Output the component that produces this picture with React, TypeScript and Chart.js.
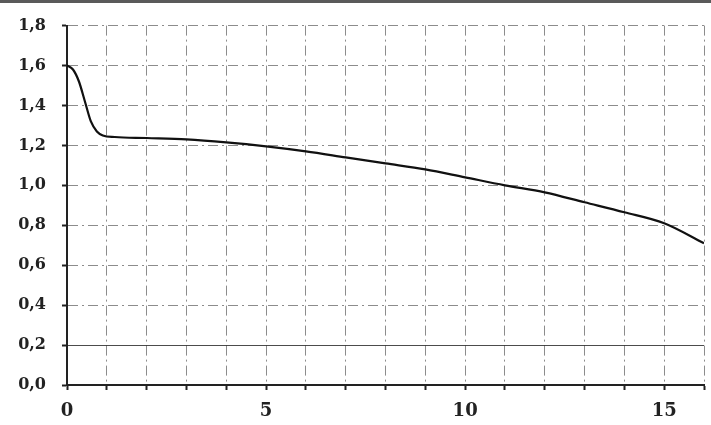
import React, { useEffect, useRef } from "react";
import { Chart, registerables } from "chart.js";

Chart.register(...registerables);

const xValues = [0, 0.15, 0.3, 0.45, 0.6, 0.75, 0.9, 1.2, 2, 3, 4, 5, 6, 7, 8, 9, 10, 11, 12, 13, 14, 15, 16];
const yValues = [1.6, 1.58, 1.52, 1.42, 1.32, 1.27, 1.25, 1.242, 1.237, 1.23, 1.215, 1.195, 1.17, 1.14, 1.11, 1.08, 1.04, 1.0, 0.965, 0.915, 0.865, 0.81, 0.71];
const xTickLabels = [0, 5, 10, 15];
const yMin = 0;
const yMax = 1.8;

const topLine = {
  id: "topLine",
  afterDraw(chart: any) {
    const c = chart.ctx;
    c.save();
    c.fillStyle = "#5a5a5a";
    c.fillRect(0, 0, chart.width, 3);
    c.restore();
  },
};

export default function App() {
  const ref = useRef<HTMLCanvasElement | null>(null);
  useEffect(() => {
    if (!ref.current) return;
    const font = { family: "'DejaVu Serif', serif", weight: "bold" as const };
    const chart = new Chart(ref.current, {
      type: "line",
      data: {
        datasets: [
          {
            data: xValues.map((x, i) => ({ x, y: yValues[i] })),
            borderColor: "#111",
            borderWidth: 2.2,
            pointRadius: 0,
            cubicInterpolationMode: "monotone",
            fill: false,
          },
        ],
      },
      options: {
        animation: false,
        responsive: false,
        layout: { padding: { left: 0, right: 7, top: 25, bottom: 0 } },
        plugins: { legend: { display: false }, tooltip: { enabled: false } },
        scales: {
          x: {
            type: "linear",
            min: 0,
            max: 16,
            afterFit(s: any) {
              s.height = 40;
              s.paddingRight = 0;
              s.paddingLeft = 0;
            },
            ticks: {
              stepSize: 1,
              autoSkip: false,
              maxRotation: 0,
              padding: 11,
              color: "#222",
              font: { ...font, size: 18 },
              callback: (v: any) => (xTickLabels.includes(Number(v)) ? String(v) : ""),
            },
            grid: {
              color: "rgba(0,0,0,0.45)",
              lineWidth: 1,
              tickLength: 5,
              tickColor: "#222",
              tickWidth: 2,
            },
            border: {
              display: true,
              color: "#222",
              width: 2,
              dash: [10, 4, 2, 4],
            },
          },
          y: {
            min: yMin,
            max: yMax,
            afterFit(s: any) {
              s.width = 67;
            },
            ticks: {
              stepSize: 0.2,
              padding: 16,
              color: "#222",
              font: { ...font, size: 16 },
              callback: (v: any) => Number(v).toFixed(1).replace(".", ","),
            },
            grid: {
              color: (ctx: any) => {
                const v = ctx.tick ? ctx.tick.value : -1;
                return Math.abs(v - 0.2) < 1e-6 ? "rgba(0,0,0,0.7)" : "rgba(0,0,0,0.45)";
              },
              lineWidth: 1,
              tickLength: 5,
              tickColor: "#222",
              tickWidth: 2,
            },
            border: {
              display: true,
              color: "#222",
              width: 2,
              dash: (ctx: any) => {
                const v = ctx.tick ? ctx.tick.value : -1;
                return Math.abs(v - 0.2) < 1e-6 || Math.abs(v) < 1e-6 ? [] : [10, 4, 2, 4];
              },
            },
          },
        },
      },
      plugins: [topLine],
    } as any);
    return () => chart.destroy();
  }, []);
  return (
    <div style={{ position: "absolute", left: 0, top: 0, width: 711, height: 425, background: "#fff" }}>
      <canvas ref={ref} width={711} height={425} />
    </div>
  );
}
